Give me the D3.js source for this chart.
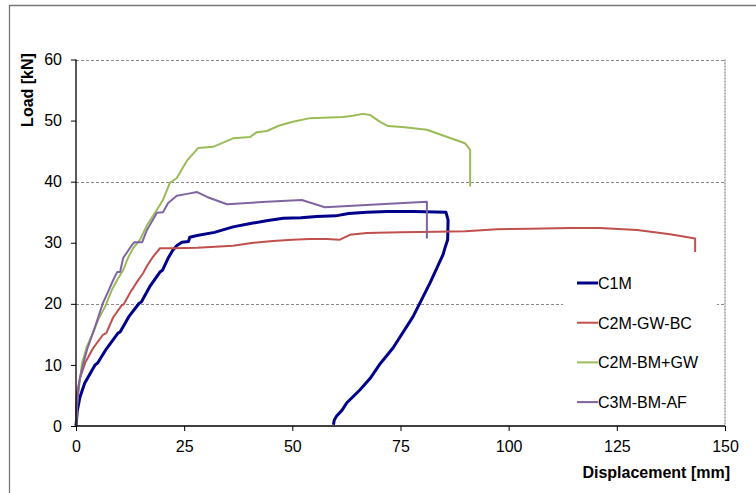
<!DOCTYPE html>
<html>
<head>
<meta charset="utf-8">
<script src="https://cdn.jsdelivr.net/npm/d3@7"></script>
<style>
  body { margin: 0; background: #fff; }
  svg { display: block; font-family: "Liberation Sans", Arial, sans-serif; }
</style>
</head>
<body>
<div id="chart"></div>
<script>
// load-displacement curves, [displacement mm, load kN]
var seriesNames = ["C1M", "C2M-GW-BC", "C2M-BM+GW", "C3M-BM-AF"];
var seriesColors = ["#00008B", "#C0504D", "#9BBB59", "#8064A2"];

var c1m = [[0,0],[0.3,2.5],[0.9,4.7],[2,7],[4.4,10],[5,10.3],[7,12.6],[9.7,15.2],[10.2,15.4],[12.3,18],[14.6,20.1],[15.1,20.3],
  [17.2,23],[19.4,25.2],[20,25.5],[21.3,27.5],[22.4,28.8],[23.4,29.6],[24.5,30.1],[26,30.2],[26.3,30.9],[28,31.2],
  [32,31.7],[36.3,32.6],[40,33.1],[44,33.6],[47.9,34],[52,34.1],[55.6,34.3],[60,34.4],[63,34.8],[67.2,35],
  [72,35.1],[78,35.1],[85.5,35],[86,33.7],[85.9,30.5],[85.3,29.2],[84.8,28],[81.8,23.4],[77.9,17.9],[73.3,12.8],
  [70.3,10.2],[68,7.8],[65.6,5.9],[62.6,3.8],[61.5,2.6],[60.2,1.6],[59.7,1],[59.5,0.2]];
var c2mGwBc = [[0,0],[0,3],[0.2,5.4],[1,8],[2.1,10.3],[4,12.8],[6.2,14.9],[7,15.2],[8.6,17.8],[10.6,19.8],[11,19.9],
  [12.5,21.8],[14.1,23.6],[15.5,25],[16.5,26.3],[17.8,27.7],[19.4,29.1],[22.4,29.1],[28,29.2],[36.3,29.5],[41,30],
  [45.5,30.3],[50,30.5],[54,30.6],[58,30.6],[61,30.5],[63.3,31.3],[67.2,31.6],[75,31.7],[83.4,31.8],[90,31.9],
  [97.3,32.2],[105,32.3],[114.2,32.4],[121.1,32.4],[129.7,32.1],[137.3,31.4],[143.1,30.7],[143.1,28.5]];
var c2mBmGw = [[0,0],[0.3,4],[0.8,7],[1.4,10.3],[2.5,13],[3.9,15.2],[5.2,17.5],[6.7,19.5],[8.3,22.3],[9.5,23.9],
  [10.9,25.5],[12,27.5],[13.2,29.1],[14.8,30.5],[16.5,33],[18.7,35.4],[20.1,37],[21.7,39.8],[23.3,40.6],[25.7,43.5],
  [28.2,45.5],[31.7,45.7],[36.3,47.1],[40.2,47.3],[41.8,48.1],[44.1,48.3],[47,49.2],[50.1,49.8],[54.1,50.4],
  [61.7,50.6],[64,50.8],[66.3,51.1],[68,50.9],[70.3,49.8],[72.1,49.1],[76,48.9],[81.1,48.5],[85.5,47.4],[89.9,46.3],
  [91.1,45.2],[91.1,39.2]];
var c3mBmAf = [[0,0],[0.3,4],[0.8,7.5],[1.6,10],[2.6,12.6],[3.9,15.2],[5,17.5],[6.2,20.1],[7.3,21.8],[8.6,23.9],
  [9.5,25.2],[10.2,25.2],[10.9,27.5],[12.9,29.6],[13.5,30.1],[15.3,30.1],[16.4,32.1],[18.7,34.9],[20.1,35],
  [21.3,36.5],[23.3,37.7],[25.7,38],[28,38.3],[30.3,37.5],[34.9,36.3],[44.1,36.7],[52.2,37],[57.5,35.8],
  [70.3,36.3],[81.1,36.7],[81.1,30.7]];
var seriesData = [c1m, c2mGwBc, c2mBmGw, c3mBmAf];
var seriesWidths = [3, 2, 2, 2];

var xTicks = [0, 25, 50, 75, 100, 125, 150];
var yTicks = [0, 10, 20, 30, 40, 50, 60];
var yGrid = [20, 40, 60];

var width = 756, height = 493;
var margin = {top: 59.5, right: 31, bottom: 67, left: 76};

var svg = d3.select("#chart").append("svg")
  .attr("width", width)
  .attr("height", height);

// outer chart frame (only top/left visible)
svg.append("path")
  .attr("d", "M9.5," + height + "V5.5H" + width)
  .attr("fill", "none")
  .attr("stroke", "#777")
  .attr("stroke-width", 1.3);

var x = d3.scaleLinear().domain([0, 150]).range([margin.left, width - margin.right]);
var y = d3.scaleLinear().domain([0, 60]).range([height - margin.bottom, margin.top]);

// gridlines
svg.append("g")
  .selectAll("line")
  .data(yGrid)
  .enter().append("line")
  .attr("x1", x(0)).attr("x2", x(150))
  .attr("y1", d => Math.round(y(d)) + 0.5).attr("y2", d => Math.round(y(d)) + 0.5)
  .attr("stroke", "#888")
  .attr("stroke-dasharray", "3,2");

// right border of plot area
svg.append("line")
  .attr("x1", x(150)).attr("x2", x(150))
  .attr("y1", y(60)).attr("y2", y(0))
  .attr("stroke", "#999")
  .attr("stroke-width", 1.5)
  .attr("stroke-dasharray", "2,1");

// curves
var line = d3.line()
  .x(d => x(d[0]))
  .y(d => y(d[1]));

svg.append("g")
  .selectAll("path")
  .data(seriesData)
  .enter().append("path")
  .attr("d", line)
  .attr("fill", "none")
  .attr("stroke", (d, i) => seriesColors[i])
  .attr("stroke-width", (d, i) => seriesWidths[i])
  .attr("stroke-linejoin", "round");

// axes
var xAxis = svg.append("g")
  .attr("transform", "translate(0," + y(0) + ")")
  .call(d3.axisBottom(x).tickValues(xTicks).tickSize(5).tickPadding(10));
var yAxis = svg.append("g")
  .attr("transform", "translate(" + x(0) + ",0)")
  .call(d3.axisLeft(y).tickValues(yTicks).tickSize(5).tickPadding(9));

[xAxis, yAxis].forEach(function(a) {
  a.select(".domain").attr("stroke", "#000").attr("stroke-width", 1.3);
  a.selectAll(".tick line").attr("stroke", "#000");
  a.selectAll(".tick text")
    .attr("fill", "#000")
    .style("font-size", "16px")
    .style("font-family", "'Liberation Sans', Arial, sans-serif");
});
xAxis.select(".domain").attr("d", "M" + x(0) + ",0H" + x(150));
yAxis.select(".domain").attr("d", "M0," + y(0) + "V" + y(60));

// axis titles
svg.append("text")
  .attr("transform", "translate(33,90) rotate(-90)")
  .attr("text-anchor", "middle")
  .style("font-size", "16px")
  .style("font-weight", "bold")
  .text("Load [kN]");

svg.append("text")
  .attr("x", 730)
  .attr("y", 478)
  .attr("text-anchor", "end")
  .style("font-size", "16px")
  .style("font-weight", "bold")
  .text("Displacement [mm]");

// legend
var legend = svg.append("g").attr("transform", "translate(563,263)");
legend.append("rect")
  .attr("width", 154).attr("height", 158)
  .attr("fill", "#fff");

var item = legend.selectAll(".item")
  .data(seriesNames)
  .enter().append("g")
  .attr("transform", (d, i) => "translate(14," + (20 + i * 39.7) + ")");

item.append("line")
  .attr("x1", 0).attr("x2", 21)
  .attr("stroke", (d, i) => seriesColors[i])
  .attr("stroke-width", (d, i) => seriesWidths[i]);

item.append("text")
  .attr("x", 21)
  .attr("y", 6)
  .style("font-size", "16px")
  .text(d => d);
</script>
</body>
</html>
